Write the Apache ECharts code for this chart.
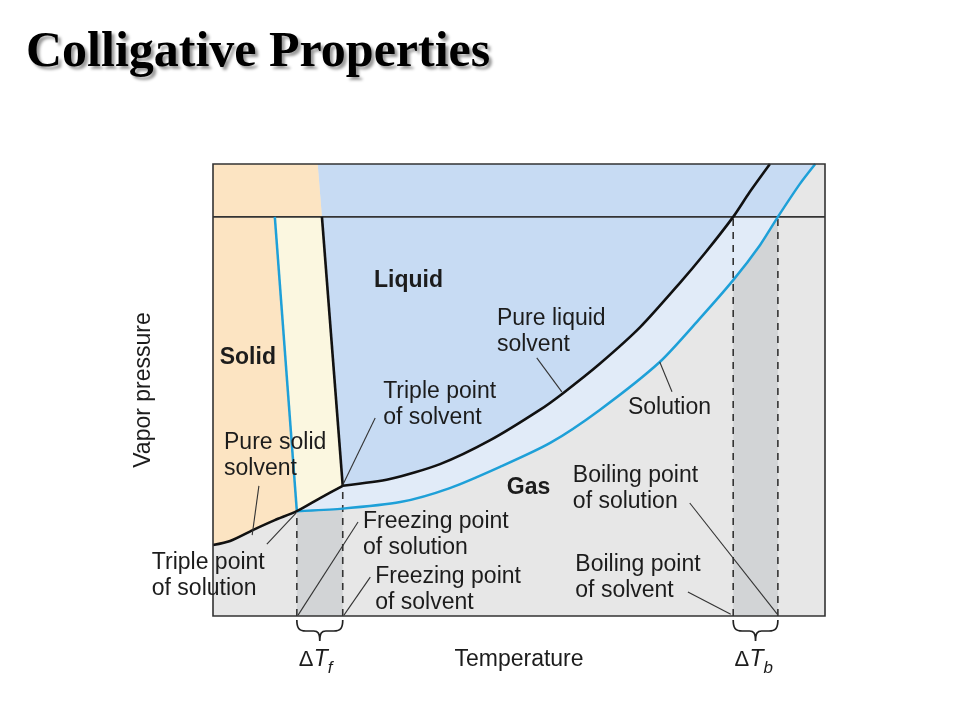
<!DOCTYPE html>
<html><head><meta charset="utf-8">
<script src="https://cdn.jsdelivr.net/npm/echarts@6/dist/echarts.min.js"></script>
<style>html,body{margin:0;padding:0;background:#fff}#c{width:960px;height:720px}</style>
</head><body><div id="c"></div>
<script>
// ---------- data (temperature 0..100, vapor pressure 0..100, arbitrary units) ----------
const oneAtm = 88.3;
const yTickLabels = ['1 atm'];
const xAxisTitle = 'Temperature';
const yAxisTitle = 'Vapor pressure';
const vaporSolvent = [[21.2,28.8],[28.9,30.3],[37.1,33.6],[45.3,38.9],[53.4,45.6],[57.2,49.3],[63.2,55.8],[69.8,63.9],[76.3,73.7],[80.4,80.3],[85.0,88.3],[87.7,93.8],[91.0,100]];
const vaporSolution = [[13.7,23.2],[20.8,23.7],[30.6,25.2],[38.7,28.3],[46.9,33.0],[55.1,38.3],[63.2,45.6],[73.0,56.2],[79.6,65.9],[85.0,74.3],[89.4,82.1],[92.3,88.3],[95.9,95.6],[98.4,100]];
const sublimation = [[0,15.7],[2.8,16.6],[6.5,19.0],[10.1,21.2],[13.7,23.2],[17.5,26.1],[21.2,28.8]];
const fusionSolvent = [[21.2,28.8],[17.8,88.3]];
const fusionSolution = [[13.7,23.2],[10.1,88.3]];
const fusionBoundaryTop = [17.1,100];
const phaseNames = ['Solid','Liquid','Gas'];
const phasePos = [[1.1,57.1],[26.3,74.1],[48.0,28.5]];
const noteTexts = ['Pure liquid\nsolvent','Solution','Triple point\nof solvent','Pure solid\nsolvent','Boiling point\nof solution','Freezing point\nof solution','Triple point\nof solution','Freezing point\nof solvent','Boiling point\nof solvent'];
const notePos = [[46.4,62.9],[67.8,46.2],[27.8,46.8],[1.8,35.5],[58.8,28.2],[24.5,17.9],[-10.0,9.0],[26.5,5.8],[59.2,8.5]];
const noteLeaders = [
  [[52.9,57.1],[57.0,49.6]],
  [[73.0,56.2],[75.0,49.6]],
  [[26.5,43.8],[21.2,29.0]],
  [[7.5,28.8],[6.4,17.9]],
  [[77.9,25.0],[92.2,0.4]],
  [[23.7,20.8],[13.9,0.2]],
  [[8.8,15.9],[13.6,22.8]],
  [[25.7,8.6],[21.4,0.2]],
  [[77.6,5.3],[84.6,0.4]]
];
const deltaLabels = [['T','f'],['T','b']];

// ---------- derived key points ----------
const tripleSolution = fusionSolution[0];
const tripleSolvent = fusionSolvent[0];
const boilSolvent = vaporSolvent[10];
const boilSolution = vaporSolution[11];
const deltaRanges = [[tripleSolution[0], tripleSolvent[0]], [boilSolvent[0], boilSolution[0]]];

function yAt(curve, x){
  for (let i=0;i<curve.length-1;i++){
    const a=curve[i], b=curve[i+1];
    if ((x-a[0])*(x-b[0])<=0){ const t=(x-a[0])/(b[0]-a[0]); return a[1]+t*(b[1]-a[1]); }
  }
  return curve[curve.length-1][1];
}

const C = {
  gas:'#e7e7e7', strip:'#d2d4d6', band:'#e1ebf8', liquid:'#c7dbf3',
  solid:'#fce4c2', yellow:'#fbf7e0', black:'#111', blue:'#1ea0d8', ink:'#1c1c1c'
};
const FONT = '"Liberation Sans", Arial, Helvetica, sans-serif';

const iSolBoil = vaporSolution.indexOf(boilSolution);
const iSvBoil = vaporSolvent.indexOf(boilSolvent);
const regions = [
  {color:C.gas, pts:[[0,0],[100,0],[100,100],[0,100]]},
  {color:C.strip, pts:[[deltaRanges[0][0],0],[deltaRanges[0][1],0],[deltaRanges[0][1],yAt(vaporSolution,deltaRanges[0][1])]].concat(vaporSolution.filter(p=>p[0]<deltaRanges[0][1]).reverse())},
  {color:C.strip, pts:[[deltaRanges[1][0],0],[deltaRanges[1][1],0]].concat(vaporSolution.filter(p=>p[0]>=deltaRanges[1][0]&&p[0]<=deltaRanges[1][1]).reverse())},
  {color:C.band, pts:vaporSolution.slice(0,iSolBoil+1).concat(vaporSolvent.slice(0,iSvBoil+1).reverse()).concat(sublimation.filter(p=>p[0]>tripleSolution[0]&&p[0]<tripleSolvent[0]).reverse())},
  {color:C.liquid, pts:vaporSolvent.slice(0,iSvBoil+1).concat([fusionSolvent[1]])},
  {color:C.liquid, pts:[fusionSolvent[1]].concat(vaporSolution.slice(iSolBoil)).concat([fusionBoundaryTop])},
  {color:C.solid, pts:sublimation.filter(p=>p[0]<=tripleSolution[0]).concat([fusionSolution[1],fusionSolvent[1],fusionBoundaryTop,[0,100]])},
  {color:C.yellow, pts:sublimation.filter(p=>p[0]>=tripleSolution[0]).concat([fusionSolvent[1],fusionSolution[1]])}
];

const texts = [];
phaseNames.forEach((t,i)=>texts.push({t, p:phasePos[i], bold:true}));
noteTexts.forEach((t,i)=>texts.push({t, p:notePos[i], bold:false}));

function lineSeries(data,color,width,dash,smooth){
  return {type:'line', data, symbol:'none', showSymbol:false, silent:true, z:4, smooth: smooth||false,
    lineStyle:{color, width, type: dash?[7,6]:'solid'}, animation:false};
}

const option = {
  animation:false,
  backgroundColor:'#fff',
  title:{text:'Colligative Properties', left:21, top:23,
    textStyle:{fontFamily:'"Liberation Serif","Times New Roman",serif', fontWeight:'bold', fontSize:50, color:'#000',
      textShadowColor:'rgba(0,0,0,0.4)', textShadowOffsetX:3, textShadowOffsetY:3, textShadowBlur:3}},
  grid:{left:213, right:135, top:164, bottom:104, containLabel:false},
  xAxis:{type:'value', min:0, max:100, name:xAxisTitle, nameLocation:'middle', nameGap:32,
    nameTextStyle:{fontFamily:FONT, fontSize:23, color:C.ink},
    axisLine:{show:false}, axisTick:{show:false}, axisLabel:{show:false}, splitLine:{show:false}},
  yAxis:{type:'value', min:0, max:100, name:yAxisTitle, nameLocation:'middle', nameGap:58,
    nameTextStyle:{fontFamily:FONT, fontSize:23, color:C.ink},
    axisLine:{show:false}, axisTick:{show:false}, axisLabel:{show:false}, splitLine:{show:false}},
  series:[
    {type:'custom', coordinateSystem:'cartesian2d', silent:true, z:1, clip:false,
      data: regions.map((r,i)=>[i,50]),
      renderItem:(params, api)=>{
        const r = regions[params.dataIndex];
        return {type:'polygon', shape:{points:r.pts.map(p=>api.coord(p))}, style:{fill:r.color, stroke:null}};
      }},
    Object.assign(lineSeries([[0,oneAtm],[100,oneAtm]],'#333',1.6,false),{
      markLine:{silent:true, symbol:'none', lineStyle:{opacity:0}, data:[{yAxis:oneAtm}],
        label:{position:'start', formatter:yTickLabels[0], distance:8, fontFamily:FONT, fontSize:23, color:C.ink}}}),
    lineSeries([[tripleSolution[0],0],tripleSolution],'#333',1.6,true),
    lineSeries([[tripleSolvent[0],0],tripleSolvent],'#333',1.6,true),
    lineSeries([[boilSolvent[0],0],boilSolvent],'#333',1.6,true),
    lineSeries([[boilSolution[0],0],boilSolution],'#333',1.6,true),
    lineSeries(vaporSolution,C.blue,2.5,false,0.25),
    lineSeries(fusionSolution,C.blue,2.5,false),
    lineSeries(sublimation,C.black,2.6,false,0.25),
    lineSeries(vaporSolvent,C.black,2.6,false,0.25),
    lineSeries(fusionSolvent,C.black,2.6,false),
    {type:'lines', coordinateSystem:'cartesian2d', silent:true, z:5, animation:false,
      data: noteLeaders.map(c=>({coords:c})),
      lineStyle:{color:'#333', width:1.1, opacity:1}},
    {type:'custom', coordinateSystem:'cartesian2d', silent:true, z:6, clip:false,
      data:[[0,50]],
      renderItem:(params, api)=>{
        const a = api.coord([0,0]), b = api.coord([100,100]);
        return {type:'rect', shape:{x:a[0], y:b[1], width:b[0]-a[0], height:a[1]-b[1]},
          style:{fill:null, stroke:'#333', lineWidth:1.6}};
      }},
    {type:'custom', coordinateSystem:'cartesian2d', silent:true, z:7, clip:false,
      data: texts.map((t,i)=>[i,50]),
      renderItem:(params, api)=>{
        const t = texts[params.dataIndex];
        const p = api.coord(t.p);
        return {type:'text', x:p[0], y:p[1], style:{text:t.t, fill:C.ink,
          font:(t.bold?'bold ':'')+'23px '+FONT, align:'left', verticalAlign:'middle', lineHeight:26}};
      }},
    {type:'custom', coordinateSystem:'cartesian2d', silent:true, z:7, clip:false,
      data: deltaRanges.map((r,i)=>[i,50]),
      renderItem:(params, api)=>{
        const r = deltaRanges[params.dataIndex], lab = deltaLabels[params.dataIndex];
        const x1 = api.coord([r[0],0])[0], x2 = api.coord([r[1],0])[0], y0 = api.coord([0,0])[1];
        const m = (x1+x2)/2;
        const d = `M${x1},${y0+4} C${x1},${y0+12} ${x1+2},${y0+15} ${x1+9},${y0+15} L${m-6},${y0+15} C${m-2},${y0+15} ${m},${y0+17} ${m},${y0+25} C${m},${y0+17} ${m+2},${y0+15} ${m+6},${y0+15} L${x2-9},${y0+15} C${x2-2},${y0+15} ${x2},${y0+12} ${x2},${y0+4}`;
        return {type:'group', children:[
          {type:'path', shape:{pathData:d}, style:{fill:null, stroke:'#222', lineWidth:1.7}},
          {type:'text', x:m-21, y:y0+44, style:{text:'\u0394', fill:C.ink, font:'22px '+FONT, align:'left', verticalAlign:'middle'}},
          {type:'text', x:m-6, y:y0+44, style:{text:lab[0], fill:C.ink, font:'italic 23px '+FONT, align:'left', verticalAlign:'middle'}},
          {type:'text', x:m+8, y:y0+52, style:{text:lab[1], fill:C.ink, font:'italic 17px '+FONT, align:'left', verticalAlign:'middle'}}
        ]};
      }}
  ]
};
const chart = echarts.init(document.getElementById('c'), null, {renderer:'canvas'});
chart.setOption(option);
</script></body></html>
